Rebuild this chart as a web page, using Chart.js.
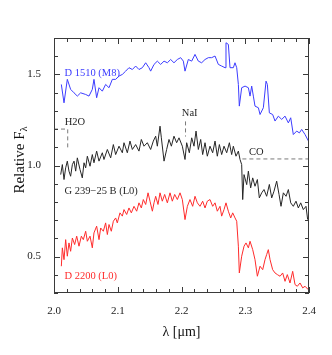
<!DOCTYPE html>
<html>
<head>
<meta charset="utf-8">
<script src="https://cdn.jsdelivr.net/npm/chart.js@4.4.1/dist/chart.umd.min.js"></script>
<style>
  html, body { margin: 0; padding: 0; background: #fff; }
  canvas { display: block; }
</style>
</head>
<body>
<canvas id="spectra" width="332" height="355"></canvas>
<script>
const xTicks = [2.0, 2.1, 2.2, 2.3, 2.4];
const yTicks = [0.5, 1.0, 1.5];

const spectrumNames = ['D 1510 (M8)', 'G 239\u221225 B (L0)', 'D 2200 (L0)'];
const featureNames = ['H2O', 'NaI', 'CO'];

// D 1510 (M8)
const blueLam = [
  2.0115, 2.0157, 2.0209, 2.0261, 2.0314, 2.0366, 2.0418, 2.0497, 2.0549, 2.0601,
  2.0627, 2.0669, 2.0706, 2.0758, 2.0810, 2.0863, 2.0915, 2.0967, 2.1020, 2.1072,
  2.1124, 2.1176, 2.1229, 2.1281, 2.1333, 2.1386, 2.1438, 2.1490, 2.1516, 2.1569,
  2.1621, 2.1673, 2.1726, 2.1778, 2.1830, 2.1882, 2.1935, 2.1987, 2.2029, 2.2055,
  2.2107, 2.2160, 2.2212, 2.2264, 2.2316, 2.2369, 2.2421, 2.2473, 2.2526, 2.2578,
  2.2630, 2.2683, 2.2698, 2.2735, 2.2761, 2.2813, 2.2839, 2.2866, 2.2892, 2.2907,
  2.2944, 2.2997, 2.3049, 2.3075, 2.3101, 2.3127, 2.3153, 2.3206, 2.3232, 2.3284,
  2.3326, 2.3347, 2.3378, 2.3430, 2.3467, 2.3519, 2.3572, 2.3624, 2.3676, 2.3713,
  2.3754, 2.3807, 2.3849, 2.3885, 2.3938, 2.3990,
];
const blueFlux = [
  1.445, 1.344, 1.473, 1.418, 1.399, 1.381, 1.399, 1.390, 1.381, 1.418,
  1.473, 1.372, 1.427, 1.408, 1.445, 1.427, 1.473, 1.473, 1.491, 1.500,
  1.518, 1.537, 1.527, 1.546, 1.527, 1.537, 1.564, 1.537, 1.518, 1.555,
  1.573, 1.555, 1.573, 1.564, 1.582, 1.564, 1.582, 1.592, 1.573, 1.518,
  1.582, 1.573, 1.610, 1.573, 1.564, 1.582, 1.592, 1.592, 1.601, 1.555,
  1.546, 1.537, 1.674, 1.665, 1.537, 1.537, 1.564, 1.537, 1.445, 1.326,
  1.427, 1.436, 1.427, 1.381, 1.436, 1.381, 1.326, 1.317, 1.280, 1.317,
  1.463, 1.445, 1.289, 1.280, 1.244, 1.271, 1.253, 1.271, 1.234, 1.262,
  1.170, 1.189, 1.179, 1.198, 1.170, 1.135,
];

// G 239-25 B (L0)
const blackLam = [
  2.0105, 2.0131, 2.0157, 2.0183, 2.0209, 2.0235, 2.0261, 2.0288, 2.0314, 2.0340,
  2.0366, 2.0408, 2.0444, 2.0471, 2.0497, 2.0523, 2.0565, 2.0601, 2.0627, 2.0669,
  2.0706, 2.0758, 2.0784, 2.0837, 2.0889, 2.0931, 2.0967, 2.1020, 2.1072, 2.1098,
  2.1150, 2.1192, 2.1229, 2.1281, 2.1333, 2.1370, 2.1412, 2.1464, 2.1516, 2.1558,
  2.1595, 2.1621, 2.1663, 2.1684, 2.1726, 2.1767, 2.1804, 2.1841, 2.1882, 2.1924,
  2.1961, 2.2013, 2.2055, 2.2081, 2.2123, 2.2160, 2.2196, 2.2228, 2.2264, 2.2301,
  2.2332, 2.2369, 2.2405, 2.2447, 2.2489, 2.2526, 2.2562, 2.2594, 2.2630, 2.2667,
  2.2709, 2.2751, 2.2787, 2.2813, 2.2855, 2.2892, 2.2918, 2.2944, 2.2960, 2.2981,
  2.3023, 2.3049, 2.3085, 2.3117, 2.3153, 2.3190, 2.3221, 2.3258, 2.3294, 2.3336,
  2.3378, 2.3415, 2.3451, 2.3493, 2.3530, 2.3561, 2.3598, 2.3640, 2.3676, 2.3713,
  2.3754, 2.3796, 2.3833, 2.3870, 2.3911, 2.3953, 2.3979,
];
const blackFlux = [
  0.950, 1.005, 0.923, 0.987, 1.024, 0.969, 0.941, 1.005, 1.024, 0.969,
  1.042, 0.978, 0.932, 1.015, 0.987, 1.051, 0.996, 1.060, 1.015, 1.079,
  1.024, 1.070, 1.033, 1.088, 1.042, 1.115, 1.060, 1.106, 1.070, 1.125,
  1.070, 1.134, 1.088, 1.115, 1.079, 1.143, 1.106, 1.125, 1.088, 1.134,
  1.161, 1.106, 1.216, 1.152, 1.024, 1.088, 1.143, 1.106, 1.161, 1.125,
  1.152, 1.106, 1.033, 1.125, 1.070, 1.152, 1.106, 1.189, 1.088, 1.143,
  1.060, 1.125, 1.051, 1.106, 1.070, 1.134, 1.051, 1.115, 1.060, 1.106,
  1.070, 1.125, 1.060, 1.106, 1.051, 1.079, 1.033, 1.005, 0.813, 0.950,
  0.895, 0.969, 0.877, 0.932, 0.886, 0.923, 0.822, 0.850, 0.868, 0.831,
  0.896, 0.822, 0.859, 0.914, 0.841, 0.776, 0.850, 0.831, 0.868, 0.795,
  0.776, 0.804, 0.767, 0.795, 0.758, 0.776, 0.703,
];

// D 2200 (L0)
const redLam = [
  2.0115, 2.0131, 2.0157, 2.0183, 2.0209, 2.0235, 2.0261, 2.0288, 2.0324, 2.0356,
  2.0392, 2.0429, 2.0460, 2.0497, 2.0523, 2.0565, 2.0601, 2.0627, 2.0669, 2.0706,
  2.0732, 2.0774, 2.0810, 2.0837, 2.0863, 2.0899, 2.0931, 2.0967, 2.0993, 2.1035,
  2.1072, 2.1098, 2.1140, 2.1176, 2.1213, 2.1255, 2.1297, 2.1333, 2.1370, 2.1401,
  2.1438, 2.1475, 2.1506, 2.1543, 2.1569, 2.1595, 2.1631, 2.1663, 2.1699, 2.1736,
  2.1778, 2.1820, 2.1856, 2.1893, 2.1935, 2.1977, 2.2013, 2.2055, 2.2092, 2.2133,
  2.2175, 2.2212, 2.2249, 2.2290, 2.2332, 2.2369, 2.2405, 2.2447, 2.2489, 2.2526,
  2.2562, 2.2604, 2.2630, 2.2667, 2.2698, 2.2735, 2.2772, 2.2803, 2.2840, 2.2866,
  2.2892, 2.2907, 2.2944, 2.2981, 2.3012, 2.3049, 2.3075, 2.3117, 2.3153, 2.3190,
  2.3232, 2.3274, 2.3310, 2.3336, 2.3362, 2.3389, 2.3430, 2.3467, 2.3504, 2.3546,
  2.3587, 2.3624, 2.3660, 2.3702, 2.3744, 2.3781, 2.3817, 2.3859, 2.3901, 2.3938,
  2.3990,
];
const redFlux = [
  0.447, 0.548, 0.483, 0.593, 0.502, 0.575, 0.529, 0.602, 0.566, 0.612,
  0.557, 0.612, 0.593, 0.639, 0.584, 0.612, 0.548, 0.630, 0.667, 0.593,
  0.657, 0.639, 0.685, 0.621, 0.676, 0.639, 0.694, 0.712, 0.685, 0.740,
  0.722, 0.758, 0.731, 0.767, 0.740, 0.776, 0.749, 0.795, 0.767, 0.813,
  0.786, 0.850, 0.804, 0.749, 0.795, 0.831, 0.786, 0.850, 0.804, 0.841,
  0.795, 0.850, 0.804, 0.841, 0.813, 0.850, 0.813, 0.703, 0.776, 0.813,
  0.776, 0.831, 0.795, 0.776, 0.804, 0.767, 0.804, 0.813, 0.776, 0.795,
  0.749, 0.776, 0.722, 0.758, 0.795, 0.749, 0.712, 0.740, 0.712, 0.694,
  0.557, 0.410, 0.502, 0.557, 0.575, 0.548, 0.584, 0.538, 0.483, 0.392,
  0.447, 0.428, 0.483, 0.511, 0.538, 0.483, 0.428, 0.410, 0.401, 0.392,
  0.410, 0.364, 0.401, 0.355, 0.419, 0.346, 0.337, 0.355, 0.328, 0.337,
  0.318,
];

// feature markers (dashed)
const h2oLam = [2.0, 2.0215, 2.0215];
const h2oFlux = [1.2, 1.2, 1.099];
const naiLam = [2.2063, 2.2063];
const naiFlux = [1.242, 1.159];
const coLam = [2.2955, 2.4];
const coFlux = [1.036, 1.036];

const serif = "'Liberation Serif', 'DejaVu Serif', serif";
const blue = '#3c3cff';
const red = '#ff2b2b';
const dark = '#262626';

// where each text sits: [lambda, flux] of its left baseline
const spectrumPlaces = [[2.0165, 1.492], [2.0165, 0.846], [2.0165, 0.379]];
const spectrumColors = [blue, dark, red];
const featurePlaces = [[2.0167, 1.224], [2.2005, 1.270], [2.3059, 1.060]];

function toPoints(lam, flux) {
  return lam.map((x, i) => ({ x, y: flux[i] }));
}

function spectrum(lam, flux, color) {
  return {
    data: toPoints(lam, flux),
    borderColor: color,
    borderWidth: 1,
    pointRadius: 0,
    tension: 0,
  };
}

function marker(lam, flux) {
  return {
    data: toPoints(lam, flux),
    borderColor: '#7a7a7a',
    borderWidth: 1,
    borderDash: [4, 3],
    pointRadius: 0,
    tension: 0,
  };
}

const fixedTicks = (values) => (scale) => {
  scale.ticks = values.map((value) => ({ value }));
};

const framePlugin = {
  id: 'frame',
  afterDraw(chart) {
    const { ctx, chartArea: area, scales } = chart;
    const x = scales.x;
    const y = scales.y;
    ctx.save();
    ctx.strokeStyle = '#3a3a3a';
    ctx.lineWidth = 1;
    ctx.strokeRect(area.left + 0.5, area.top + 0.5, area.right - area.left - 1, area.bottom - area.top - 1);

    ctx.beginPath();
    for (let i = 0; i <= 20; i++) {
      const v = 2.0 + i * 0.02;
      const px = Math.round(x.getPixelForValue(v)) + 0.5;
      const len = i % 5 === 0 ? 6 : 4;
      ctx.moveTo(px, area.bottom);
      ctx.lineTo(px, area.bottom - len);
      ctx.moveTo(px, area.top);
      ctx.lineTo(px, area.top + len);
    }
    for (let i = 3; i <= 17; i++) {
      const v = i / 10;
      const py = Math.round(y.getPixelForValue(v)) + 0.5;
      const len = i % 5 === 0 ? 6 : 4;
      ctx.moveTo(area.left, py);
      ctx.lineTo(area.left + len, py);
      ctx.moveTo(area.right, py);
      ctx.lineTo(area.right - len, py);
    }
    ctx.stroke();

    // names and features
    ctx.font = `10.5px ${serif}`;
    ctx.textAlign = 'left';
    ctx.textBaseline = 'alphabetic';
    spectrumNames.forEach((name, i) => {
      ctx.fillStyle = spectrumColors[i];
      const [lx, ly] = spectrumPlaces[i];
      ctx.fillText(name, x.getPixelForValue(lx), y.getPixelForValue(ly));
    });
    ctx.fillStyle = dark;
    featureNames.forEach((name, i) => {
      const [lx, ly] = featurePlaces[i];
      ctx.fillText(name, x.getPixelForValue(lx), y.getPixelForValue(ly));
    });

    // axis titles
    ctx.fillStyle = '#111';
    ctx.font = `14px ${serif}`;
    ctx.textAlign = 'center';
    ctx.fillText('\u03bb [\u03bcm]', (area.left + area.right) / 2, 336);

    ctx.translate(24, 160);
    ctx.rotate(-Math.PI / 2);
    ctx.textAlign = 'left';
    ctx.font = `15px ${serif}`;
    const main = 'Relative F';
    const mainW = ctx.measureText(main).width;
    ctx.font = `10.5px ${serif}`;
    const subW = ctx.measureText('\u03bb').width;
    const start = -(mainW + subW) / 2;
    ctx.font = `15px ${serif}`;
    ctx.fillText(main, start, 0);
    ctx.font = `10.5px ${serif}`;
    ctx.fillText('\u03bb', start + mainW, 3);
    ctx.restore();
  },
};

new Chart(document.getElementById('spectra'), {
  type: 'line',
  data: {
    datasets: [
      spectrum(blueLam, blueFlux, blue),
      spectrum(blackLam, blackFlux, dark),
      spectrum(redLam, redFlux, red),
      marker(h2oLam, h2oFlux),
      marker(naiLam, naiFlux),
      marker(coLam, coFlux),
    ],
  },
  options: {
    responsive: false,
    animation: false,
    layout: { padding: 0 },
    plugins: {
      legend: { display: false },
      tooltip: { enabled: false },
    },
    scales: {
      x: {
        type: 'linear',
        position: 'bottom',
        min: 2.0,
        max: 2.4,
        afterBuildTicks: fixedTicks(xTicks),
        afterFit: (scale) => { scale.height = 62; },
        grid: { display: false },
        border: { display: false },
        ticks: {
          padding: 4,
          color: '#222',
          font: { family: serif, size: 11 },
          callback: (value) => Number(value).toFixed(1),
        },
      },
      xTop: {
        type: 'linear',
        position: 'top',
        min: 2.0,
        max: 2.4,
        afterFit: (scale) => { scale.height = 38; },
        grid: { display: false },
        border: { display: false },
        ticks: { display: false },
      },
      y: {
        type: 'linear',
        position: 'left',
        min: 0.3,
        max: 1.7,
        afterBuildTicks: fixedTicks(yTicks),
        afterFit: (scale) => { scale.width = 54; },
        grid: { display: false },
        border: { display: false },
        ticks: {
          padding: 5,
          color: '#222',
          font: { family: serif, size: 11 },
          callback: (value) => Number(value).toFixed(1),
        },
      },
      yRight: {
        type: 'linear',
        position: 'right',
        min: 0.3,
        max: 1.7,
        afterFit: (scale) => { scale.width = 23; },
        grid: { display: false },
        border: { display: false },
        ticks: { display: false },
      },
    },
  },
  plugins: [framePlugin],
});
</script>
</body>
</html>
